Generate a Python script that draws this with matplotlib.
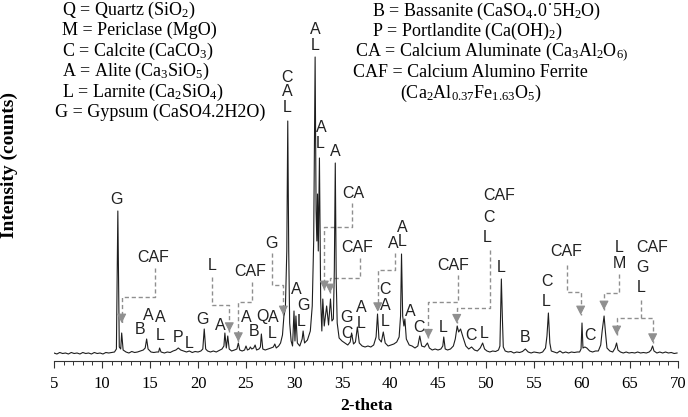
import matplotlib.pyplot as plt
from matplotlib.ticker import MultipleLocator

# ── Difractograma (2θ, cuentas relativas) ─────────────────────────────────────
two_theta = [
    5.0, 5.3, 5.6, 5.9, 6.2, 6.5, 6.8, 7.1, 7.4, 7.7, 8.0, 8.3, 8.6, 8.9, 9.2, 9.5, 9.8, 10.1, 10.4, 10.7, 11.0, 11.3,
    11.5, 11.65, 11.8, 11.95, 12.05, 12.2, 12.5, 12.8, 13.1, 13.4, 13.7, 14.0, 14.3, 14.5, 14.65, 14.8, 15.1, 15.4, 15.7, 15.9, 16.0, 16.15,
    16.5, 16.8, 17.1, 17.4, 17.7, 17.95, 18.2, 18.5, 18.8, 19.1, 19.4, 19.7, 20.0, 20.3, 20.5, 20.65, 20.8, 21.0, 21.3, 21.6, 21.9, 22.2, 22.5,
    22.7, 22.8, 22.95, 23.1, 23.25, 23.5, 23.8, 24.05, 24.2, 24.35, 24.6, 24.85, 25.0, 25.15, 25.35, 25.45, 25.6, 25.8, 25.95, 26.1, 26.35, 26.5, 26.6, 26.75, 27.0, 27.3, 27.6, 27.85, 28.0, 28.15, 28.4, 28.6,
    28.8, 28.95, 29.1, 29.25, 29.35, 29.45, 29.55, 29.7, 29.85, 30.0, 30.1, 30.2, 30.35, 30.6, 30.85, 30.95, 31.1, 31.4, 31.7, 31.9, 32.05, 32.2, 32.3, 32.38, 32.45, 32.53, 32.65, 32.78, 32.9, 33.0, 33.15, 33.4, 33.6, 33.8, 33.95, 34.1, 34.2, 34.3, 34.4, 34.5, 34.7,
    35.0, 35.3, 35.6, 35.85, 36.0, 36.2, 36.4, 36.6, 36.8, 37.1, 37.4, 37.7, 38.0, 38.3, 38.55, 38.7, 38.85, 39.1, 39.3, 39.5, 39.8, 40.1, 40.4, 40.7, 40.95, 41.1, 41.2, 41.32, 41.45, 41.55, 41.7,
    42.0, 42.3, 42.6, 42.9, 43.1, 43.3, 43.6, 43.9, 44.1, 44.4, 44.7, 45.0, 45.3, 45.5, 45.6, 45.75, 46.0, 46.3, 46.6, 46.8, 47.0, 47.15, 47.35, 47.6, 47.9, 48.2, 48.5, 48.8,
    49.1, 49.4, 49.65, 49.85, 50.1, 50.4, 50.7, 51.0, 51.3, 51.45, 51.6, 51.7, 51.8, 52.0, 52.3, 52.6, 52.9, 53.2, 53.5, 53.8, 54.1, 54.4, 54.7, 55.0, 55.3, 55.6, 55.9, 56.2, 56.35, 56.5, 56.65, 56.8,
    57.1, 57.4, 57.7, 58.0, 58.3, 58.6, 58.9, 59.2, 59.5, 59.75, 59.9, 60.0, 60.1, 60.3, 60.5, 60.8, 61.1, 61.4, 61.7, 61.95, 62.1, 62.3, 62.45, 62.6, 62.9, 63.2,
    63.45, 63.6, 63.75, 64.0, 64.3, 64.6, 64.9, 65.2, 65.5, 65.8, 66.1, 66.4, 66.7, 67.0, 67.2, 67.35, 67.5, 67.8, 68.1, 68.4, 68.7, 69.0, 69.3, 69.6, 69.9,
]
counts = [
    8, 7, 8.5, 7.5, 8, 7, 8.5, 7.5, 8, 7, 8.5, 7.5, 8, 7, 8.5, 7.5, 8, 7, 8.5, 8, 8.5, 9,
    12, 150, 14, 12, 28, 11, 9, 8, 9.5, 8.5, 9, 10, 11, 13, 22, 12, 9, 8.5, 9, 9, 13, 9,
    8, 9, 8.5, 10, 11, 13, 11, 10, 9, 10, 8.5, 9.5, 9, 10, 12, 32, 12, 10, 9, 10, 9, 10.5, 12,
    15, 28, 13, 25, 12, 10, 11, 12, 18, 11, 10, 11, 15, 11, 12, 14, 12, 13, 16, 11, 12, 14, 27, 12, 11, 12, 13, 14, 17, 13, 15, 18,
    26, 45, 52, 110, 240, 110, 38, 20, 15, 50, 20, 45, 18, 15, 22, 30, 18, 21, 30, 55, 120, 304, 150, 120, 167, 110, 203, 60, 30, 62, 35, 55, 36, 62, 40, 42, 90, 198, 80, 38, 23,
    20, 18, 16, 19, 28, 17, 19, 34, 18, 15, 14, 15, 14, 16, 24, 47, 22, 19, 29, 18, 15, 16, 17, 19, 24, 45, 107, 45, 35, 42, 22,
    16, 15, 13, 15, 25, 15, 14, 18, 13, 11, 12, 11, 12, 15, 24, 12, 11, 12, 15, 22, 35, 29, 32, 24, 15, 12, 14, 11,
    10, 13, 18, 12, 10, 9, 10, 9.5, 11, 15, 82, 45, 14, 10, 9, 9.5, 8, 9, 8.5, 9.5, 12, 9, 8, 9, 8.5, 8, 9, 13, 25, 48, 18, 10,
    9, 8, 10, 8, 9, 8, 9, 8.5, 9, 9, 12, 38, 13, 14, 13, 10, 9, 10, 10, 16, 30, 45, 28, 13, 10, 9,
    13, 18, 11, 9, 8, 9, 8, 8.5, 8, 9, 8, 8.5, 8, 9, 11, 15, 10, 8, 9, 8, 9, 8, 8.5, 7.5, 8,
]

# ── Leyenda de fases (texto) ──────────────────────────────────────────────────
legend_left = [
    "Q = Quartz (SiO$_2$)",
    "M = Periclase (MgO)",
    "C = Calcite (CaCO$_3$)",
    "A = Alite (Ca$_3$SiO$_5$)",
    "L = Larnite (Ca$_2$SiO$_4$)",
    "G = Gypsum (CaSO4.2H2O)",
]
legend_right = [
    "B = Bassanite (CaSO$_4$.0˙5H$_2$O)",
    "P = Portlandite (Ca(OH)$_2$)",
    "CA = Calcium Aluminate (Ca$_3$Al$_2$O$_{6)}$",
    "CAF = Calcium Alumino Ferrite",
    "(Ca$_2$Al$_{0.37}$Fe$_{1.63}$O$_5$)",
]

# ── Etiquetas de picos: (texto, 2θ, altura) ───────────────────────────────────
peak_labels = [
    ("G", 11.53, 161), ("B", 13.96, 31), ("A", 14.79, 46), ("A", 16.04, 43), ("L", 16.04, 25),
    ("P", 17.92, 23), ("L", 19.06, 18), ("G", 20.52, 41), ("A", 22.29, 36),
    ("A", 25.07, 44), ("B", 25.83, 29), ("Q", 26.67, 44), ("A", 27.81, 44), ("L", 27.71, 28),
    ("C", 29.27, 284), ("A", 29.27, 269), ("L", 29.27, 254),
    ("A", 30.2, 72), ("G", 30.94, 56), ("L", 30.8, 40),
    ("A", 32.19, 331), ("L", 32.19, 315), ("A", 32.8, 233), ("L", 32.75, 218), ("A", 34.27, 209),
    ("G", 35.49, 44), ("C", 35.49, 28), ("A", 37.05, 54), ("L", 37.05, 38),
    ("C", 39.48, 72), ("A", 39.48, 56), ("L", 39.48, 40),
    ("A", 41.32, 134), ("L", 41.32, 119), ("A", 42.08, 49), ("C", 43.05, 34), ("L", 45.55, 34),
    ("C", 48.4, 26), ("L", 49.8, 28), ("L", 51.53, 93), ("B", 54.06, 23),
    ("C", 56.32, 79), ("L", 56.32, 59), ("C", 60.83, 26), ("L", 63.89, 113), ("M", 63.89, 97),
]
stacked_left = [  # etiquetas alineadas a la izquierda
    ("CAF", 49.69, 166), ("C", 49.69, 144), ("L", 49.69, 123),
    ("CAF", 65.7, 114), ("G", 65.7, 94), ("L", 65.7, 73),
]
# flechas discontinuas: etiqueta -> pico
arrow_labels = [
    ("CAF", 15.31, 103, [(15.52, 92.7), (15.52, 64.3), (12.05, 64.3), (12.05, 38)]),
    ("L", 21.43, 96, [(21.43, 84.3), (21.43, 56), (23.26, 56), (23.26, 29.3)]),
    ("CAF", 25.42, 89, [(25.59, 79.3), (25.59, 59.3), (24.2, 59.3), (24.2, 19.3)]),
    ("G", 27.68, 118, [(27.67, 108), (27.67, 76), (28.89, 76), (28.89, 46)]),
    ("CA", 36.15, 168, [(36.0, 158), (36.0, 134.3), (33.16, 134.3), (33.16, 71)]),
    ("CAF", 36.56, 113, [(36.87, 103), (36.87, 83), (33.75, 83), (33.75, 68)]),
    ("A", 40.34, 118, [(40.52, 108), (40.52, 91), (38.72, 91), (38.72, 49.3)]),
    ("CAF", 46.6, 96, [(47.11, 86), (47.11, 59.3), (43.99, 59.3), (43.99, 22.7)]),
    ("", 0, 0, [(50.42, 111), (50.42, 52.7), (46.95, 52.7), (46.95, 37.7)]),
    ("CAF", 58.4, 109, [(58.4, 96), (58.4, 69.3), (59.86, 69.3), (59.86, 46)]),
    ("", 0, 0, [(63.89, 87), (63.89, 67.7), (62.29, 67.7), (62.29, 51)]),
    ("", 0, 0, [(66.11, 61), (66.11, 42.7), (63.61, 42.7), (63.61, 26)]),
    ("", 0, 0, [(66.11, 42.7), (67.36, 42.7), (67.36, 18.3)]),
]

GRIS = "#8f8f8f"
NEGRO = "#1e1e1e"
SERIF = "Liberation Serif"
SANS = "Liberation Sans"
FS_PICO = 11.5

plt.rcParams.update({
    "font.family": SERIF,
    "mathtext.fontset": "custom",
    "mathtext.rm": SERIF,
    "mathtext.it": SERIF + ":italic",
    "mathtext.bf": SERIF + ":bold",
})

fig = plt.figure(figsize=(6.88, 4.17), dpi=100)
ax = fig.add_axes([54 / 688, 56 / 417, 624 / 688, 361 / 417])
ax.patch.set_alpha(0)

ax.plot(two_theta, counts, color=NEGRO, lw=0.8, zorder=3)

ax.set_xlim(5, 70)
ax.set_ylim(0, 361)
ax.set_yticks([])
for s in ("left", "top", "right"):
    ax.spines[s].set_visible(False)
ax.spines["bottom"].set_color("#333333")
ax.spines["bottom"].set_linewidth(0.8)
ax.xaxis.set_major_locator(MultipleLocator(5))
ax.xaxis.set_minor_locator(MultipleLocator(1))
ax.tick_params(axis="x", which="major", direction="out", length=5, width=0.8,
               color="#333333", labelsize=12, pad=6)
ax.tick_params(axis="x", which="minor", direction="out", length=3, width=0.7,
               color="#333333")
ax.set_xlabel("2-theta", fontsize=12.5, fontweight="bold", labelpad=4)
fig.text(9 / 688, 1 - 165 / 417, "Intensity (counts)", rotation=90, ha="center", va="center",
         fontsize=14, fontweight="bold")

# etiquetas de picos
for txt, x, y in peak_labels:
    ax.text(x, y, txt, ha="center", va="center", family=SANS, fontsize=FS_PICO, color="#222222")
for txt, x, y in stacked_left:
    ax.text(x, y, txt, ha="left", va="center", family=SANS, fontsize=FS_PICO, color="#222222")

for txt, x, y, pts in arrow_labels:
    if txt:
        ax.text(x, y, txt, ha="center", va="center", family=SANS, fontsize=FS_PICO, color="#222222")
    xs, ys = zip(*pts)
    ax.plot(xs, ys, color=GRIS, lw=1.0, ls=(0, (3, 2)), zorder=2)
    tip = pts[-1]
    ax.annotate("", xy=tip, xytext=(tip[0], tip[1] + 7),
                arrowprops=dict(arrowstyle="-|>,head_length=0.55,head_width=0.28",
                                color=GRIS, lw=0.8, shrinkA=0, shrinkB=0))

# leyenda de fases
y_left = [10, 30.5, 51, 71.5, 92, 112]
for i, txt in enumerate(legend_left):
    x0 = 55 if txt.startswith("G") else 61.7
    fig.text(x0 / 688, 1 - y_left[i] / 417, txt, ha="left", va="center", fontsize=13)
x_right = [371.7, 371.7, 355, 352.7, 400]
y_right = [11.7, 31.7, 51.7, 72.7, 93.3]
for txt, x0, y0 in zip(legend_right, x_right, y_right):
    fig.text(x0 / 688, 1 - y0 / 417, txt, ha="left", va="center", fontsize=13)

fig.savefig("out.png", dpi=100)
